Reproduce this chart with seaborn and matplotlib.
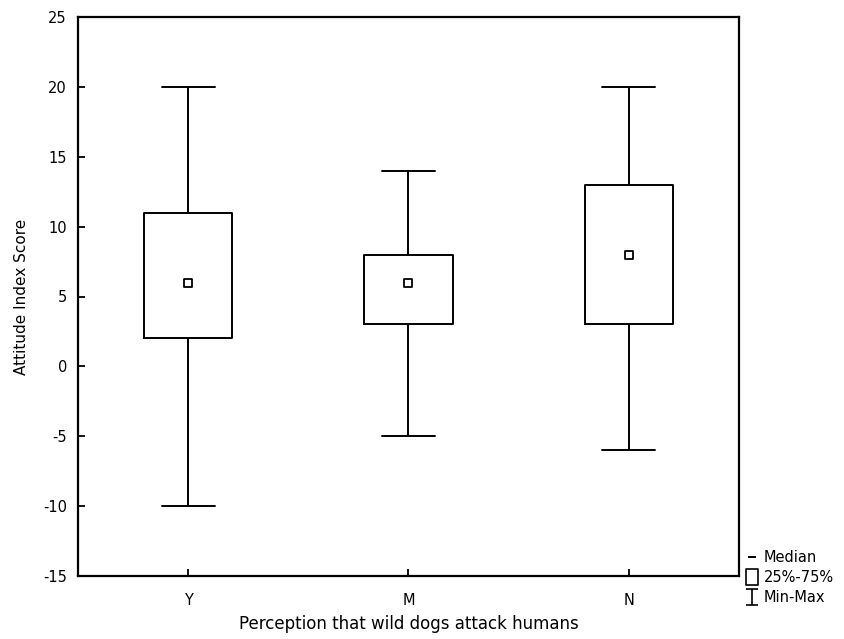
import matplotlib
matplotlib.use("Agg")
import matplotlib.pyplot as plt
import seaborn as sns
import pandas as pd
from matplotlib.lines import Line2D
from matplotlib.path import Path

# Data: min, q1, median, q3, max per category
categories = ["Y", "M", "N"]
mins = [-10, -5, -6]
q1s = [2, 3, 3]
medians = [6, 6, 8]
q3s = [11, 8, 13]
maxs = [20, 14, 20]
legend_labels = ["Median", "25%-75%", "Min-Max"]

rows = []
for c, a, b, m, d, e in zip(categories, mins, q1s, medians, q3s, maxs):
    for v in (a, b, m, d, e):
        rows.append({"cat": c, "score": v})
df = pd.DataFrame(rows)

sns.set_theme(style="white")
plt.rcParams["font.family"] = ["DejaVu Sans"]
plt.rcParams["text.color"] = "black"
plt.rcParams["axes.labelcolor"] = "black"

fig = plt.figure(figsize=(8.45, 6.39), dpi=100)
ax = fig.add_axes([78 / 845, 63 / 639, 661 / 845, 559 / 639])

lw = 1.4
sns.boxplot(
    data=df, x="cat", y="score", order=categories, ax=ax,
    whis=(0, 100), width=0.40, fill=False, color="black",
    linewidth=lw, showfliers=False, capwidths=0.24,
    medianprops={"visible": False},
    boxprops={"color": "black"},
    whiskerprops={"color": "black"},
    capprops={"color": "black"},
)

# median markers
med_df = pd.DataFrame({"cat": categories, "median": medians})
sns.scatterplot(data=med_df, x="cat", y="median", ax=ax, marker="s", s=26,
                facecolor="white", edgecolor="black", linewidth=1.3, zorder=5)

ax.set_xlim(-0.5, 2.5)
ax.set_ylim(-15, 25)
ax.set_yticks(range(-15, 26, 5))
ax.set_yticklabels([str(v) for v in range(-15, 26, 5)])
ax.tick_params(axis="both", direction="in", length=5, width=1.3, colors="black",
               labelsize=10.5, left=True, bottom=True, top=False, right=False)
ax.tick_params(axis="y", pad=8)
ax.tick_params(axis="x", pad=12)
for sp in ax.spines.values():
    sp.set_visible(True)
    sp.set_color("black")
    sp.set_linewidth(1.6)

ax.set_xlabel("Perception that wild dogs attack humans", fontsize=12, labelpad=5, color="black")
ax.set_ylabel("Attitude Index Score", fontsize=11, labelpad=10, color="black")

ibeam = Path([(-0.5, 0.6), (0.5, 0.6), (0, 0.6), (0, -0.6), (-0.5, -0.6), (0.5, -0.6)],
             [Path.MOVETO, Path.LINETO, Path.MOVETO, Path.LINETO, Path.MOVETO, Path.LINETO])
rect = Path([(-0.38, -0.5), (0.38, -0.5), (0.38, 0.5), (-0.38, 0.5), (-0.38, -0.5)],
            [Path.MOVETO, Path.LINETO, Path.LINETO, Path.LINETO, Path.CLOSEPOLY])
handles = [
    Line2D([], [], color="black", marker="_", linestyle="none", markersize=6, markeredgewidth=1.4),
    Line2D([], [], color="black", marker=rect, linestyle="none", markersize=12,
           markerfacecolor="white", markeredgewidth=1.2),
    Line2D([], [], color="black", marker=ibeam, linestyle="none", markersize=11,
           markerfacecolor="none", markeredgewidth=1.2),
]
leg = fig.legend(handles, legend_labels, loc="upper left", bbox_to_anchor=(737 / 845, 1 - 541 / 639),
                 frameon=False, fontsize=10.5, handlelength=0.9, handletextpad=0.35,
                 labelspacing=0.35, borderpad=0.1)
for t in leg.get_texts():
    t.set_color("black")

fig.savefig("out.png", dpi=100)
